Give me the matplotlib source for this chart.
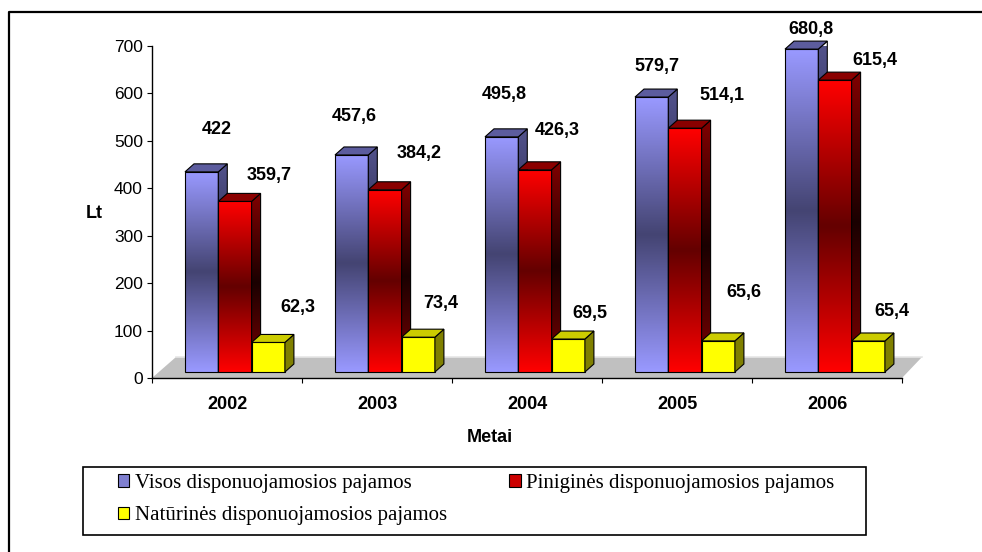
import numpy as np
import matplotlib
matplotlib.use("Agg")
import matplotlib.pyplot as plt
from matplotlib.patches import Polygon, Rectangle, Patch
from matplotlib.lines import Line2D
from matplotlib.colors import to_rgb

# data
years = ["2002", "2003", "2004", "2005", "2006"]
visos = [422, 457.6, 495.8, 579.7, 680.8]
pinigines = [359.7, 384.2, 426.3, 514.1, 615.4]
naturines = [62.3, 73.4, 69.5, 65.6, 65.4]
names = ["Visos disponuojamosios pajamos",
         "Piniginės disponuojamosios pajamos",
         "Natūrinės disponuojamosios pajamos"]

# label placement (pixels right / up from the bar's front top edge), as Excel put them
label_dx = [[15, 3, 3, 5, 9], [34, 34, 22, 37, 40], [30, 22, 22, 26, 24]]
label_up = [[42, 38, 42, 31, 20], [26, 36, 39, 33, 20], [35, 34, 26, 48, 29]]

W, H = 982, 552
AX_L, AX_R, AX_T, AX_B = 152, 902, 46, 378   # plot area in pixels

fig = plt.figure(figsize=(W / 100, H / 100), dpi=100)
ax = fig.add_axes([AX_L / W, 1 - AX_B / H, (AX_R - AX_L) / W, (AX_B - AX_T) / H])
ax.set_autoscale_on(False)
ax.set_xlim(-0.5, 4.5)
ax.set_ylim(0, 700)

# pixel -> data units
ux = 5 / (AX_R - AX_L)
uy = 700 / (AX_B - AX_T)
ddx, ddy = 9 * ux, 8 * uy          # bar depth
base = 6 * uy                      # bars stand a bit behind the front edge
bar_w = 33.3 * ux
first_gap = 33 * ux


def gradient(light, dark, n=128):
    t = np.linspace(0, 1, n)
    f = 1 - np.abs(2 * t - 1)
    a = np.array(to_rgb(light))
    b = np.array(to_rgb(dark))
    return (a[None, :] * (1 - f)[:, None] + b[None, :] * f[:, None])[:, None, :]


def fill_poly(pts, light, dark, extent, z):
    poly = Polygon(pts, closed=True, facecolor="none", edgecolor="black",
                   linewidth=0.8, zorder=z + 0.1, clip_on=False)
    if dark is None:
        poly.set_facecolor(light)
        ax.add_patch(poly)
        return
    clip = Polygon(pts, closed=True, transform=ax.transData)
    im = ax.imshow(gradient(light, dark), extent=extent, origin="lower",
                   aspect="auto", interpolation="bilinear", zorder=z)
    im.set_clip_path(clip)
    ax.add_patch(poly)


# floor
floor = Polygon([(-0.5, 0), (4.5, 0), (4.5 + 20 * ux, 21 * uy), (-0.5 + 24 * ux, 21 * uy)],
                closed=True, facecolor="#C0C0C0", edgecolor="none", zorder=1, clip_on=False)
ax.add_patch(floor)
ax.plot([-0.5 + 24 * ux, 4.5 + 20 * ux], [21 * uy, 21 * uy], color="#E6E6E6",
        lw=1.2, zorder=1.1, clip_on=False)

styles = [
    # front light, front dark, side light, side dark, top
    ("#9999FF", "#444472", "#52528C", "#2A2A48", "#5C5C9E"),
    ("#FF0000", "#640000", "#800000", "#1A0000", "#8A0000"),
    ("#FFFF00", None, "#808000", None, "#CCCC00"),
]

z = 2
for i in range(len(years)):
    for k, vals in enumerate([visos, pinigines, naturines]):
        v = vals[i]
        fl, fd, sl, sd, tc = styles[k]
        x0 = i - 0.5 + first_gap + k * bar_w
        x1 = x0 + bar_w
        y0, y1 = base, base + v
        fill_poly([(x0, y0), (x1, y0), (x1, y1), (x0, y1)], fl, fd, (x0, x1, y0, y1), z)
        fill_poly([(x1, y0), (x1 + ddx, y0 + ddy), (x1 + ddx, y1 + ddy), (x1, y1)],
                  sl, sd, (x1, x1 + ddx, y0, y1 + ddy), z + 0.2)
        fill_poly([(x0, y1), (x1, y1), (x1 + ddx, y1 + ddy), (x0 + ddx, y1 + ddy)],
                  tc, None, None, z + 0.4)
        txt = ("%g" % v).replace(".", ",")
        ax.text((x0 + x1) / 2 + label_dx[k][i] * ux, y1 + label_up[k][i] * uy, txt,
                ha="center", va="center", fontsize=13, fontweight="bold",
                family="Liberation Sans", zorder=50)
        z += 1

# axes styling
for s in ["top", "right"]:
    ax.spines[s].set_visible(False)
ax.spines["left"].set_linewidth(1.0)
ax.spines["bottom"].set_linewidth(1.0)
ax.spines["bottom"].set_zorder(1.5)
ax.set_yticks(range(0, 701, 100))
ax.set_yticklabels([str(t) for t in range(0, 701, 100)], family="Liberation Sans", fontsize=12.5)
ax.tick_params(axis="y", direction="out", length=3.6, width=0.8, pad=3)
ax.set_xticks(np.arange(-0.5, 5, 1))
ax.set_xticklabels([])
ax.set_xticks(range(len(years)), minor=True)
ax.set_xticklabels(years, minor=True, fontsize=13, fontweight="bold", family="Liberation Sans")
ax.tick_params(axis="x", which="major", direction="out", length=3.6, width=0.8)
ax.tick_params(axis="x", which="minor", length=0, pad=13)
ax.patch.set_visible(False)

fig.text(94 / W, 1 - 213 / H, "Lt", ha="center", va="center", fontsize=13,
         fontweight="bold", family="Liberation Sans")
fig.text(490 / W, 1 - 438 / H, "Metai", ha="center", va="center", fontsize=13,
         fontweight="bold", family="Liberation Sans")

# outer frame (only top and left visible in the crop)
fig.add_artist(Line2D([9 / W, 9 / W, 1.0], [0, 1 - 12 / H, 1 - 12 / H],
                      color="black", lw=1.6))

# legend: box drawn separately, entries laid out row-wise like Excel
fig.add_artist(Rectangle((83 / W, 1 - 535 / H), 783 / W, 68 / H, transform=fig.transFigure,
                         facecolor="white", edgecolor="black", lw=1.2))
handles = [Patch(facecolor="#7F7FD0", edgecolor="black", lw=0.8),
           Patch(facecolor="#FFFF00", edgecolor="black", lw=0.8),
           Patch(facecolor="#CC0000", edgecolor="black", lw=0.8)]
fig.legend(handles, [names[0], names[2], names[1]], loc="upper left",
           bbox_to_anchor=(118 / W, 1 - 474 / H),
           ncol=2, frameon=False, prop={"family": "Liberation Serif", "size": 15},
           handlelength=0.55, handleheight=0.55, handletextpad=0.25,
           columnspacing=3.0, labelspacing=0.64, borderpad=0, borderaxespad=0)

fig.savefig("out.png", dpi=100)
